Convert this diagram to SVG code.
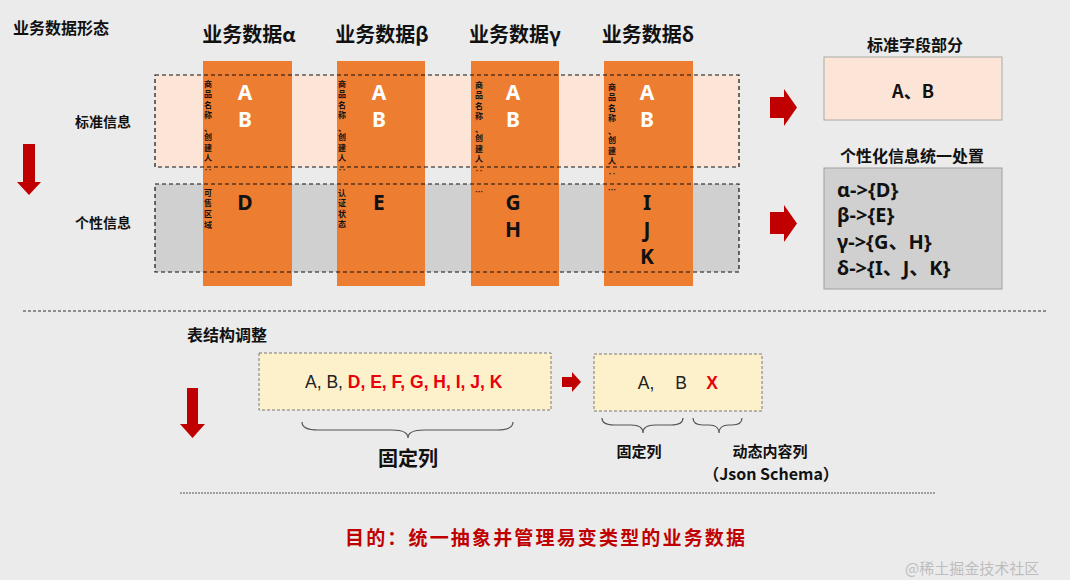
<svg xmlns="http://www.w3.org/2000/svg" width="1070" height="585" viewBox="0 0 1070 585">
<defs>
<style>
.cjk{font-family:"Noto Sans CJK SC","Noto Sans",sans-serif;font-weight:bold;fill:#111;}
.hdr{font-size:20px;text-anchor:middle;}
.lbl{font-size:14px;text-anchor:middle;}
.ttl{font-size:16px;text-anchor:middle;}
.big{font-family:"Noto Sans","Noto Sans CJK SC",sans-serif;font-weight:bold;font-size:21px;text-anchor:middle;}
.wht{fill:#fff;}
.blk{fill:#111;}
.vt{font-family:"Noto Sans CJK SC",sans-serif;font-weight:bold;font-size:8px;text-anchor:middle;fill:#111;}
.col{fill:#ed7d31;}
.band{fill:none;stroke:#111;stroke-width:1.2;stroke-dasharray:4 3;}
.red{fill:#c00000;}
.brace{fill:none;stroke:#555;stroke-width:1.2;}
.lst{font-family:"Noto Sans","Noto Sans CJK SC",sans-serif;font-weight:bold;font-size:20px;fill:#111;}
.row{font-family:"Liberation Sans","Noto Sans CJK SC",sans-serif;font-size:17.5px;}
</style>
</defs>
<rect x="0" y="0" width="1070" height="585" fill="#ebebeb"/>
<rect x="0" y="580" width="1070" height="5" fill="#ffffff"/>

<g id="title">
<text class="cjk" x="13" y="34" font-size="16">业务数据形态</text>
</g>

<g id="bands-fill">
<rect x="155" y="75" width="584" height="92" fill="#fce4d6"/>
<rect x="155" y="184" width="584" height="88" fill="#d0d0d0"/>
</g>

<g id="col-alpha">
<text class="cjk hdr" x="249" y="42">业务数据α</text>
<rect class="col" x="203" y="61" width="89" height="225"/>
<text class="big wht" x="245" y="100">A</text>
<text class="big wht" x="245" y="127">B</text>
<text class="big blk" x="245" y="210">D</text>
<text class="vt"><tspan x="208" y="87">商</tspan><tspan x="208" y="97">品</tspan><tspan x="208" y="108">名</tspan><tspan x="208" y="118">称</tspan><tspan x="208" y="131">、</tspan><tspan x="208" y="140">创</tspan><tspan x="208" y="151">建</tspan><tspan x="208" y="161">人</tspan><tspan x="208" y="173">‥</tspan><tspan x="208" y="196">可</tspan><tspan x="208" y="206">售</tspan><tspan x="208" y="217">区</tspan><tspan x="208" y="228">域</tspan></text>
</g>

<g id="col-beta">
<text class="cjk hdr" x="382" y="42">业务数据β</text>
<rect class="col" x="337" y="61" width="88" height="225"/>
<text class="big wht" x="379" y="100">A</text>
<text class="big wht" x="379" y="127">B</text>
<text class="big blk" x="379" y="210">E</text>
<text class="vt"><tspan x="342" y="87">商</tspan><tspan x="342" y="97">品</tspan><tspan x="342" y="108">名</tspan><tspan x="342" y="118">称</tspan><tspan x="342" y="131">、</tspan><tspan x="342" y="140">创</tspan><tspan x="342" y="151">建</tspan><tspan x="342" y="161">人</tspan><tspan x="342" y="173">‥</tspan><tspan x="342" y="196">认</tspan><tspan x="342" y="206">证</tspan><tspan x="342" y="217">状</tspan><tspan x="342" y="227">态</tspan></text>
</g>

<g id="col-gamma">
<text class="cjk hdr" x="515" y="42">业务数据γ</text>
<rect class="col" x="471" y="61" width="88" height="225"/>
<text class="big wht" x="513" y="100">A</text>
<text class="big wht" x="513" y="127">B</text>
<text class="big blk" x="513" y="210">G</text>
<text class="big blk" x="513" y="237">H</text>
<text class="vt"><tspan x="479" y="88">商</tspan><tspan x="479" y="98">品</tspan><tspan x="479" y="109">名</tspan><tspan x="479" y="119">称</tspan><tspan x="479" y="132">、</tspan><tspan x="479" y="141">创</tspan><tspan x="479" y="152">建</tspan><tspan x="479" y="162">人</tspan><tspan x="479" y="174">‥</tspan><tspan x="479" y="195">…</tspan></text>
</g>

<g id="col-delta">
<text class="cjk hdr" x="648" y="42">业务数据δ</text>
<rect class="col" x="604" y="61" width="89" height="225"/>
<text class="big wht" x="647" y="100">A</text>
<text class="big wht" x="647" y="127">B</text>
<text class="big blk" x="647" y="210">I</text>
<text class="big blk" x="647" y="237">J</text>
<text class="big blk" x="647" y="264">K</text>
<text class="vt"><tspan x="612" y="90">商</tspan><tspan x="612" y="100">品</tspan><tspan x="612" y="111">名</tspan><tspan x="612" y="121">称</tspan><tspan x="612" y="134">、</tspan><tspan x="612" y="143">创</tspan><tspan x="612" y="154">建</tspan><tspan x="612" y="164">人</tspan><tspan x="612" y="177">‥</tspan><tspan x="612" y="193">…</tspan></text>
</g>

<g id="band-standard">
<rect class="band" x="155" y="75" width="584" height="92"/>
<text class="cjk lbl" x="103" y="127">标准信息</text>
</g>
<g id="band-personal">
<rect class="band" x="155" y="184" width="584" height="88"/>
<text class="cjk lbl" x="103" y="228">个性信息</text>
</g>

<g id="standard-fields">
<text class="cjk ttl" x="915" y="51">标准字段部分</text>
<rect x="824" y="57" width="178" height="63" fill="#fce4d6" stroke="#aaaaaa" stroke-width="1"/>
<text class="cjk" x="913" y="98" font-size="18" text-anchor="middle">A、B</text>
</g>

<g id="personal-fields">
<text class="cjk ttl" x="912" y="162">个性化信息统一处置</text>
<rect x="824" y="168" width="178" height="121" fill="#d0d0d0" stroke="#a0a0a0" stroke-width="1"/>
<text class="lst" x="837" y="197">α-&gt;{D}</text>
<text class="lst" x="837" y="222">β-&gt;{E}</text>
<text class="lst" x="837" y="249">γ-&gt;{G、H}</text>
<text class="lst" x="837" y="275">δ-&gt;{I、J、K}</text>
</g>

<g id="table-adjust">
<text class="cjk" x="187" y="341" font-size="16">表结构调整</text>
</g>

<g id="table-before">
<rect x="259" y="353" width="292" height="57" fill="#fdf1cc" stroke="#777" stroke-width="1" stroke-dasharray="3 2"/>
<text class="row" x="305" y="388"><tspan fill="#222">A, B, </tspan><tspan fill="#e8000b" font-weight="bold">D, E, F, G, H, I, J, K</tspan></text>
<text class="cjk" x="408" y="466" font-size="20" text-anchor="middle">固定列</text>
</g>

<g id="table-after">
<rect x="594" y="354" width="168" height="57" fill="#fdf1cc" stroke="#777" stroke-width="1" stroke-dasharray="3 2"/>
<text class="row" x="646" y="389" text-anchor="middle" fill="#222">A,</text>
<text class="row" x="681" y="389" text-anchor="middle" fill="#222">B</text>
<text class="row" x="712" y="389" text-anchor="middle" fill="#e8000b" font-weight="bold">X</text>
<text class="cjk" x="639" y="457" font-size="15" text-anchor="middle">固定列</text>
<text class="cjk" x="770" y="457" font-size="15" text-anchor="middle">动态内容列</text>
<text class="cjk" x="771" y="480" font-size="16" text-anchor="middle">（Json Schema）</text>
</g>

<g id="connectors">
<polygon class="red" points="23,144 35,144 35,182 41,182 29,195 17,182 23,182"/>
<polygon class="red" points="770,97 784,97 784,89 797,107.5 784,126 784,118 770,118"/>
<polygon class="red" points="770,212 784,212 784,205 797,223.5 784,242 784,234 770,234"/>
<polygon class="red" points="187,388 198,388 198,424 205,424 192.5,438 180,424 187,424"/>
<polygon class="red" points="562,377 572,377 572,372 581,382 572,392 572,387 562,387"/>
<path class="brace" d="M302,422 Q302,430 318,430 L392,430 Q408,430 408,438 Q408,430 424,430 L497,430 Q513,430 513,422"/>
<path class="brace" d="M602,418 Q602,425 614,425 L631,425 Q643,425 643,433 Q643,425 655,425 L671,425 Q683,425 683,418"/>
<path class="brace" d="M693,418 Q693,425 703,425 L709,425 Q719,425 719,433 Q719,425 729,425 L732,425 Q742,425 742,418"/>
<line x1="23" y1="311" x2="1046" y2="311" stroke="#333" stroke-width="1" stroke-dasharray="3 2"/>
<line x1="180" y1="493" x2="935" y2="493" stroke="#555" stroke-width="1" stroke-dasharray="2 1"/>
</g>

<g id="purpose">
<text class="cjk" x="545" y="545" font-size="19" text-anchor="middle" style="fill:#c00000" textLength="400">目的：统一抽象并管理易变类型的业务数据</text>
</g>

<g id="watermark">
<text x="905" y="574" font-family="Noto Sans CJK SC, sans-serif" font-size="15" fill="#bdbdbd">@稀土掘金技术社区</text>
</g>
</svg>
